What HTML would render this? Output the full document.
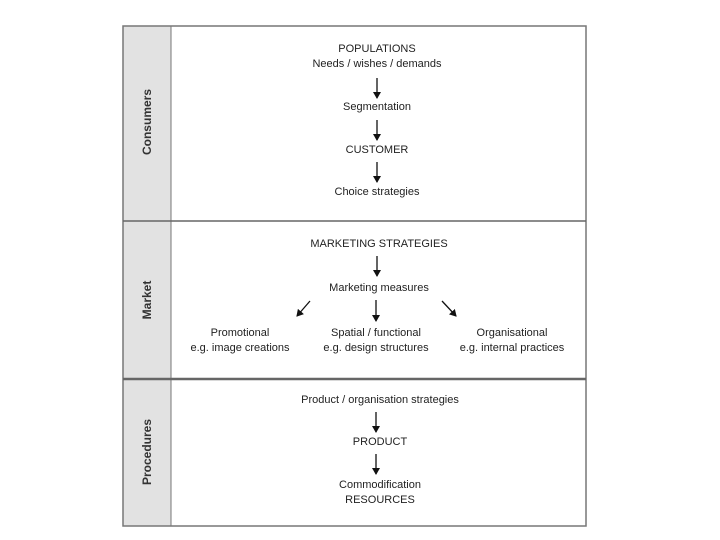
<!DOCTYPE html>
<html><head><style>
body{margin:0;width:720px;height:540px;background:#fff;position:relative;font-family:"Liberation Sans",sans-serif;color:#222;overflow:hidden}
.t{position:absolute;font-size:11px;text-align:center;white-space:nowrap;transform:translateX(-50%);line-height:15px}
.side{position:absolute;font-size:12px;font-weight:bold;transform:translate(-50%,-50%) rotate(-90deg);white-space:nowrap;color:#333}
</style></head><body>
<svg width="720" height="540" style="position:absolute;left:0;top:0">
<rect x="123" y="26" width="48" height="500" fill="#e2e2e2"/>
<rect x="123" y="26" width="463" height="500" fill="none" stroke="#777" stroke-width="1.5"/>
<line x1="171" y1="26" x2="171" y2="526" stroke="#777" stroke-width="1"/>
<line x1="123" y1="221" x2="586" y2="221" stroke="#666" stroke-width="1.5"/>
<line x1="123" y1="379" x2="586" y2="379" stroke="#666" stroke-width="2.5"/>
<defs><marker id="a" markerWidth="8" markerHeight="8" refX="6" refY="4" orient="auto" markerUnits="userSpaceOnUse"><path d="M0,0 L7,4 L0,8 Z" fill="#111"/></marker></defs>
<g stroke="#111" stroke-width="1.3" marker-end="url(#a)">
<line x1="377" y1="78" x2="377" y2="98"/>
<line x1="377" y1="120" x2="377" y2="140"/>
<line x1="377" y1="162" x2="377" y2="182"/>
<line x1="377" y1="256" x2="377" y2="276"/>
<line x1="376" y1="300" x2="376" y2="321"/>
<line x1="310" y1="301" x2="297" y2="316"/>
<line x1="442" y1="301" x2="456" y2="316"/>
<line x1="376" y1="412" x2="376" y2="432"/>
<line x1="376" y1="454" x2="376" y2="474"/>
</g>
</svg>
<div class="side" style="left:147px;top:122px">Consumers</div>
<div class="side" style="left:147px;top:300px">Market</div>
<div class="side" style="left:147px;top:452px">Procedures</div>
<div class="t" style="left:377px;top:42px">POPULATIONS<br>Needs / wishes / demands</div>
<div class="t" style="left:377px;top:100px">Segmentation</div>
<div class="t" style="left:377px;top:143px">CUSTOMER</div>
<div class="t" style="left:377px;top:185px">Choice strategies</div>
<div class="t" style="left:379px;top:237px">MARKETING STRATEGIES</div>
<div class="t" style="left:379px;top:281px">Marketing measures</div>
<div class="t" style="left:240px;top:326px">Promotional<br>e.g. image creations</div>
<div class="t" style="left:376px;top:326px">Spatial / functional<br>e.g. design structures</div>
<div class="t" style="left:512px;top:326px">Organisational<br>e.g. internal practices</div>
<div class="t" style="left:380px;top:393px">Product / organisation strategies</div>
<div class="t" style="left:380px;top:435px">PRODUCT</div>
<div class="t" style="left:380px;top:478px">Commodification<br>RESOURCES</div>
</body></html>
